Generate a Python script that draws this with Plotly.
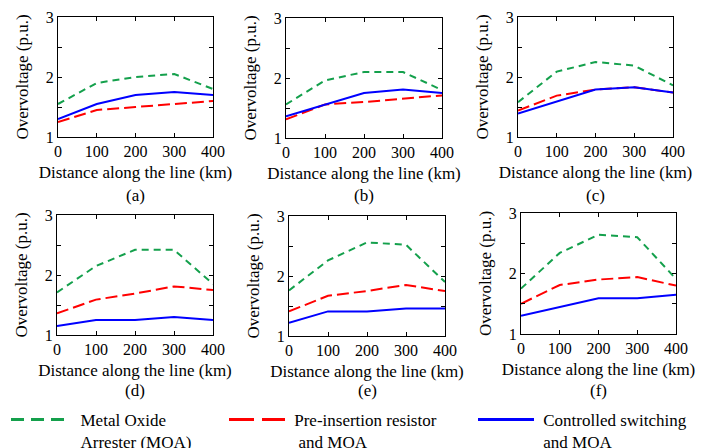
import plotly.graph_objects as go

distance = [0, 100, 200, 300, 400]
panel_labels = ["(a)", "(b)", "(c)", "(d)", "(e)", "(f)"]
series_names = ["Metal Oxide Arrester (MOA)", "Pre-insertion resistor and MOA", "Controlled switching and MOA"]

moa = [
    [1.55, 1.90, 2.00, 2.05, 1.80],
    [1.56, 1.96, 2.10, 2.10, 1.80],
    [1.58, 2.09, 2.25, 2.19, 1.86],
    [1.71, 2.15, 2.42, 2.42, 1.85],
    [1.76, 2.26, 2.56, 2.52, 1.90],
    [1.75, 2.34, 2.64, 2.60, 1.91],
]
pir = [
    [1.25, 1.45, 1.50, 1.55, 1.60],
    [1.31, 1.56, 1.60, 1.66, 1.71],
    [1.44, 1.69, 1.79, 1.83, 1.74],
    [1.36, 1.59, 1.69, 1.81, 1.75],
    [1.41, 1.67, 1.75, 1.85, 1.75],
    [1.50, 1.81, 1.90, 1.94, 1.80],
]
csw = [
    [1.30, 1.55, 1.70, 1.75, 1.70],
    [1.36, 1.56, 1.75, 1.81, 1.75],
    [1.39, 1.59, 1.79, 1.83, 1.74],
    [1.15, 1.25, 1.25, 1.30, 1.25],
    [1.22, 1.41, 1.41, 1.46, 1.46],
    [1.30, 1.45, 1.59, 1.59, 1.65],
]

W, H = 708, 448
# pixel boxes (left, right, top, bottom)
boxes = [
    (58, 213, 17, 137), (286, 442, 18, 138), (518, 673, 17, 137),
    (57, 213, 215, 335), (289, 445, 216, 336), (521, 676, 213, 334),
]
label_y = [195, 195, 195, 390, 390, 390]
colors = ["#14a04c", "#ff0000", "#0000ff"]
dashes = ["7px,5px", "12px,5px", "solid"]
legend_dashes = ["13px,7px", "25px,8px", "solid"]
legend_x = [6, 224, 473]
legend_ids = ["legend", "legend2", "legend3"]
legend_names = ["\u00a0\u00a0Metal Oxide<br>\u00a0\u00a0Arrester (MOA)",
                "\u00a0Pre-insertion resistor<br>\u00a0\u00a0and MOA",
                "\u00a0Controlled switching<br>\u00a0and MOA"]
FONT = "Liberation Serif, Times New Roman, Times, serif"

fig = go.Figure()
for i in range(6):
    sfx = "" if i == 0 else str(i + 1)
    for k, data in enumerate([moa, pir, csw]):
        fig.add_trace(go.Scatter(
            x=distance, y=data[i][:], mode="lines",
            line=dict(color=colors[k], width=2, dash=dashes[k]),
            name=series_names[k], showlegend=False,
            xaxis="x" + sfx, yaxis="y" + sfx,
        ))
    l, r, t, b = boxes[i]
    axcommon = dict(showline=True, linecolor="black", linewidth=1, mirror="ticks",
                    ticks="inside", ticklen=4, tickcolor="black", showgrid=False,
                    zeroline=False, tickfont=dict(family=FONT, size=16, color="black"))
    fig.layout["xaxis" + sfx] = dict(
        domain=[l / W, r / W], anchor="y" + sfx, range=[0, 400],
        tickvals=[0, 100, 200, 300, 400],
        title=dict(text="Distance along the line (km)", standoff=6,
                   font=dict(family=FONT, size=17, color="black")),
        **axcommon)
    fig.layout["yaxis" + sfx] = dict(
        domain=[1 - b / H, 1 - t / H], anchor="x" + sfx, range=[1, 3],
        tickvals=[1, 2, 3],
        minor=dict(tickvals=[1.5, 2.5], ticks="inside", ticklen=4, tickcolor="black"),
        title=dict(text="Overvoltage (p.u.)", standoff=12,
                   font=dict(family=FONT, size=17, color="black")),
        **axcommon)
    fig.add_annotation(text=panel_labels[i], x=(l + r) / 2 / W, y=1 - label_y[i] / H,
                       xref="paper", yref="paper", xanchor="center", yanchor="middle",
                       showarrow=False, font=dict(family=FONT, size=17, color="black"))

# legend entries (one legend per series, placed like the reference)
for k in range(3):
    fig.add_trace(go.Scatter(
        x=[None], y=[None], mode="lines",
        line=dict(color=colors[k], width=3, dash=legend_dashes[k]),
        name=legend_names[k], showlegend=True, legend=legend_ids[k],
        xaxis="x", yaxis="y", hoverinfo="skip",
    ))
    fig.layout[legend_ids[k]] = dict(
        x=legend_x[k] / W, y=1 - 402 / H, xref="paper", yref="paper",
        xanchor="left", yanchor="top", valign="top", itemwidth=56,
        font=dict(family=FONT, size=17, color="black"),
        bgcolor="rgba(0,0,0,0)", borderwidth=0)

fig.update_layout(
    width=W, height=H, margin=dict(l=0, r=0, t=0, b=0, autoexpand=False),
    paper_bgcolor="white", plot_bgcolor="white",
    font=dict(family=FONT, color="black"),
    showlegend=True,
)
fig.write_html("out.html")
